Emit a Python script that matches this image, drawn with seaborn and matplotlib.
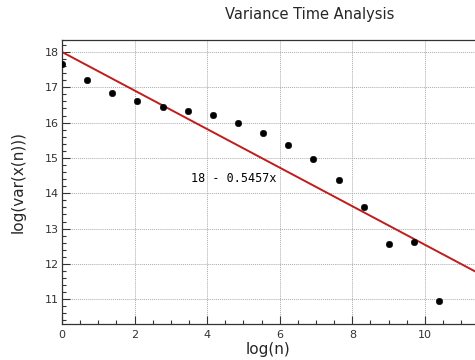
import numpy as np
import pandas as pd
import matplotlib
matplotlib.use("Agg")
import matplotlib.pyplot as plt
from matplotlib.ticker import MultipleLocator
import seaborn as sns

# log(n) for n = 1, 2, 4, ... and measured log variance
log_n = [0.0, 0.69, 1.39, 2.08, 2.77, 3.47, 4.16, 4.85,
         5.55, 6.24, 6.93, 7.62, 8.32, 9.01, 9.70, 10.40]
log_var = [17.66, 17.21, 16.83, 16.61, 16.44, 16.34, 16.22, 15.98,
           15.70, 15.38, 14.98, 14.37, 13.62, 12.56, 12.63, 10.95]

# fitted line from the chart label
intercept = 18.0
slope = -0.5457
fit_label = "18 - 0.5457x"

df = pd.DataFrame({"log_n": log_n, "log_var": log_var})

sns.set_theme(style="white")
plt.rcParams["font.family"] = ["DejaVu Sans"]

fig = plt.figure(figsize=(4.75, 3.6), dpi=100)
ax = fig.add_axes([0.1305, 0.10, 0.8695, 0.789])

xmin, xmax = 0, 11.38
fit_x = np.array([xmin, xmax])
fit_df = pd.DataFrame({"x": fit_x, "y": intercept + slope * fit_x})

sns.lineplot(data=fit_df, x="x", y="y", color="#c01c1c", linewidth=1.4, ax=ax)
sns.scatterplot(data=df, x="log_n", y="log_var", color="black", s=22,
                edgecolor="black", zorder=3, ax=ax)

ax.set_xlim(xmin, xmax)
ax.set_ylim(10.3, 18.34)
ax.xaxis.set_major_locator(MultipleLocator(2))
ax.xaxis.set_minor_locator(MultipleLocator(0.5))
ax.yaxis.set_major_locator(MultipleLocator(1))
ax.yaxis.set_minor_locator(MultipleLocator(0.2))
ax.tick_params(which="both", direction="in", bottom=True, left=True,
               top=False, right=False, labelsize=8, color="#333333",
               labelcolor="#333333", width=0.8)
ax.tick_params(which="major", length=6)
ax.tick_params(which="minor", length=3)
ax.tick_params(axis="x", pad=4)
ax.tick_params(axis="y", pad=2)
ax.grid(True, which="major", linestyle=(0, (1, 1)), color="#aaaaaa",
        linewidth=0.7)

for side in ["left", "bottom", "top"]:
    ax.spines[side].set_color("#333333")
    ax.spines[side].set_linewidth(0.9)
ax.spines["right"].set_visible(False)

ax.set_xlabel("log(n)", fontsize=11, labelpad=2)
ax.set_ylabel("log(var(x(n)))", fontsize=11, labelpad=14)
ax.text(3.55, 14.43, fit_label, fontsize=8.5, va="center", ha="left",
        color="black", family=["DejaVu Sans Mono"])

fig.text(310 / 475, 1 - 14 / 360, "Variance Time Analysis", ha="center",
         va="center", fontsize=10.5)

fig.savefig("out.png", dpi=100)
